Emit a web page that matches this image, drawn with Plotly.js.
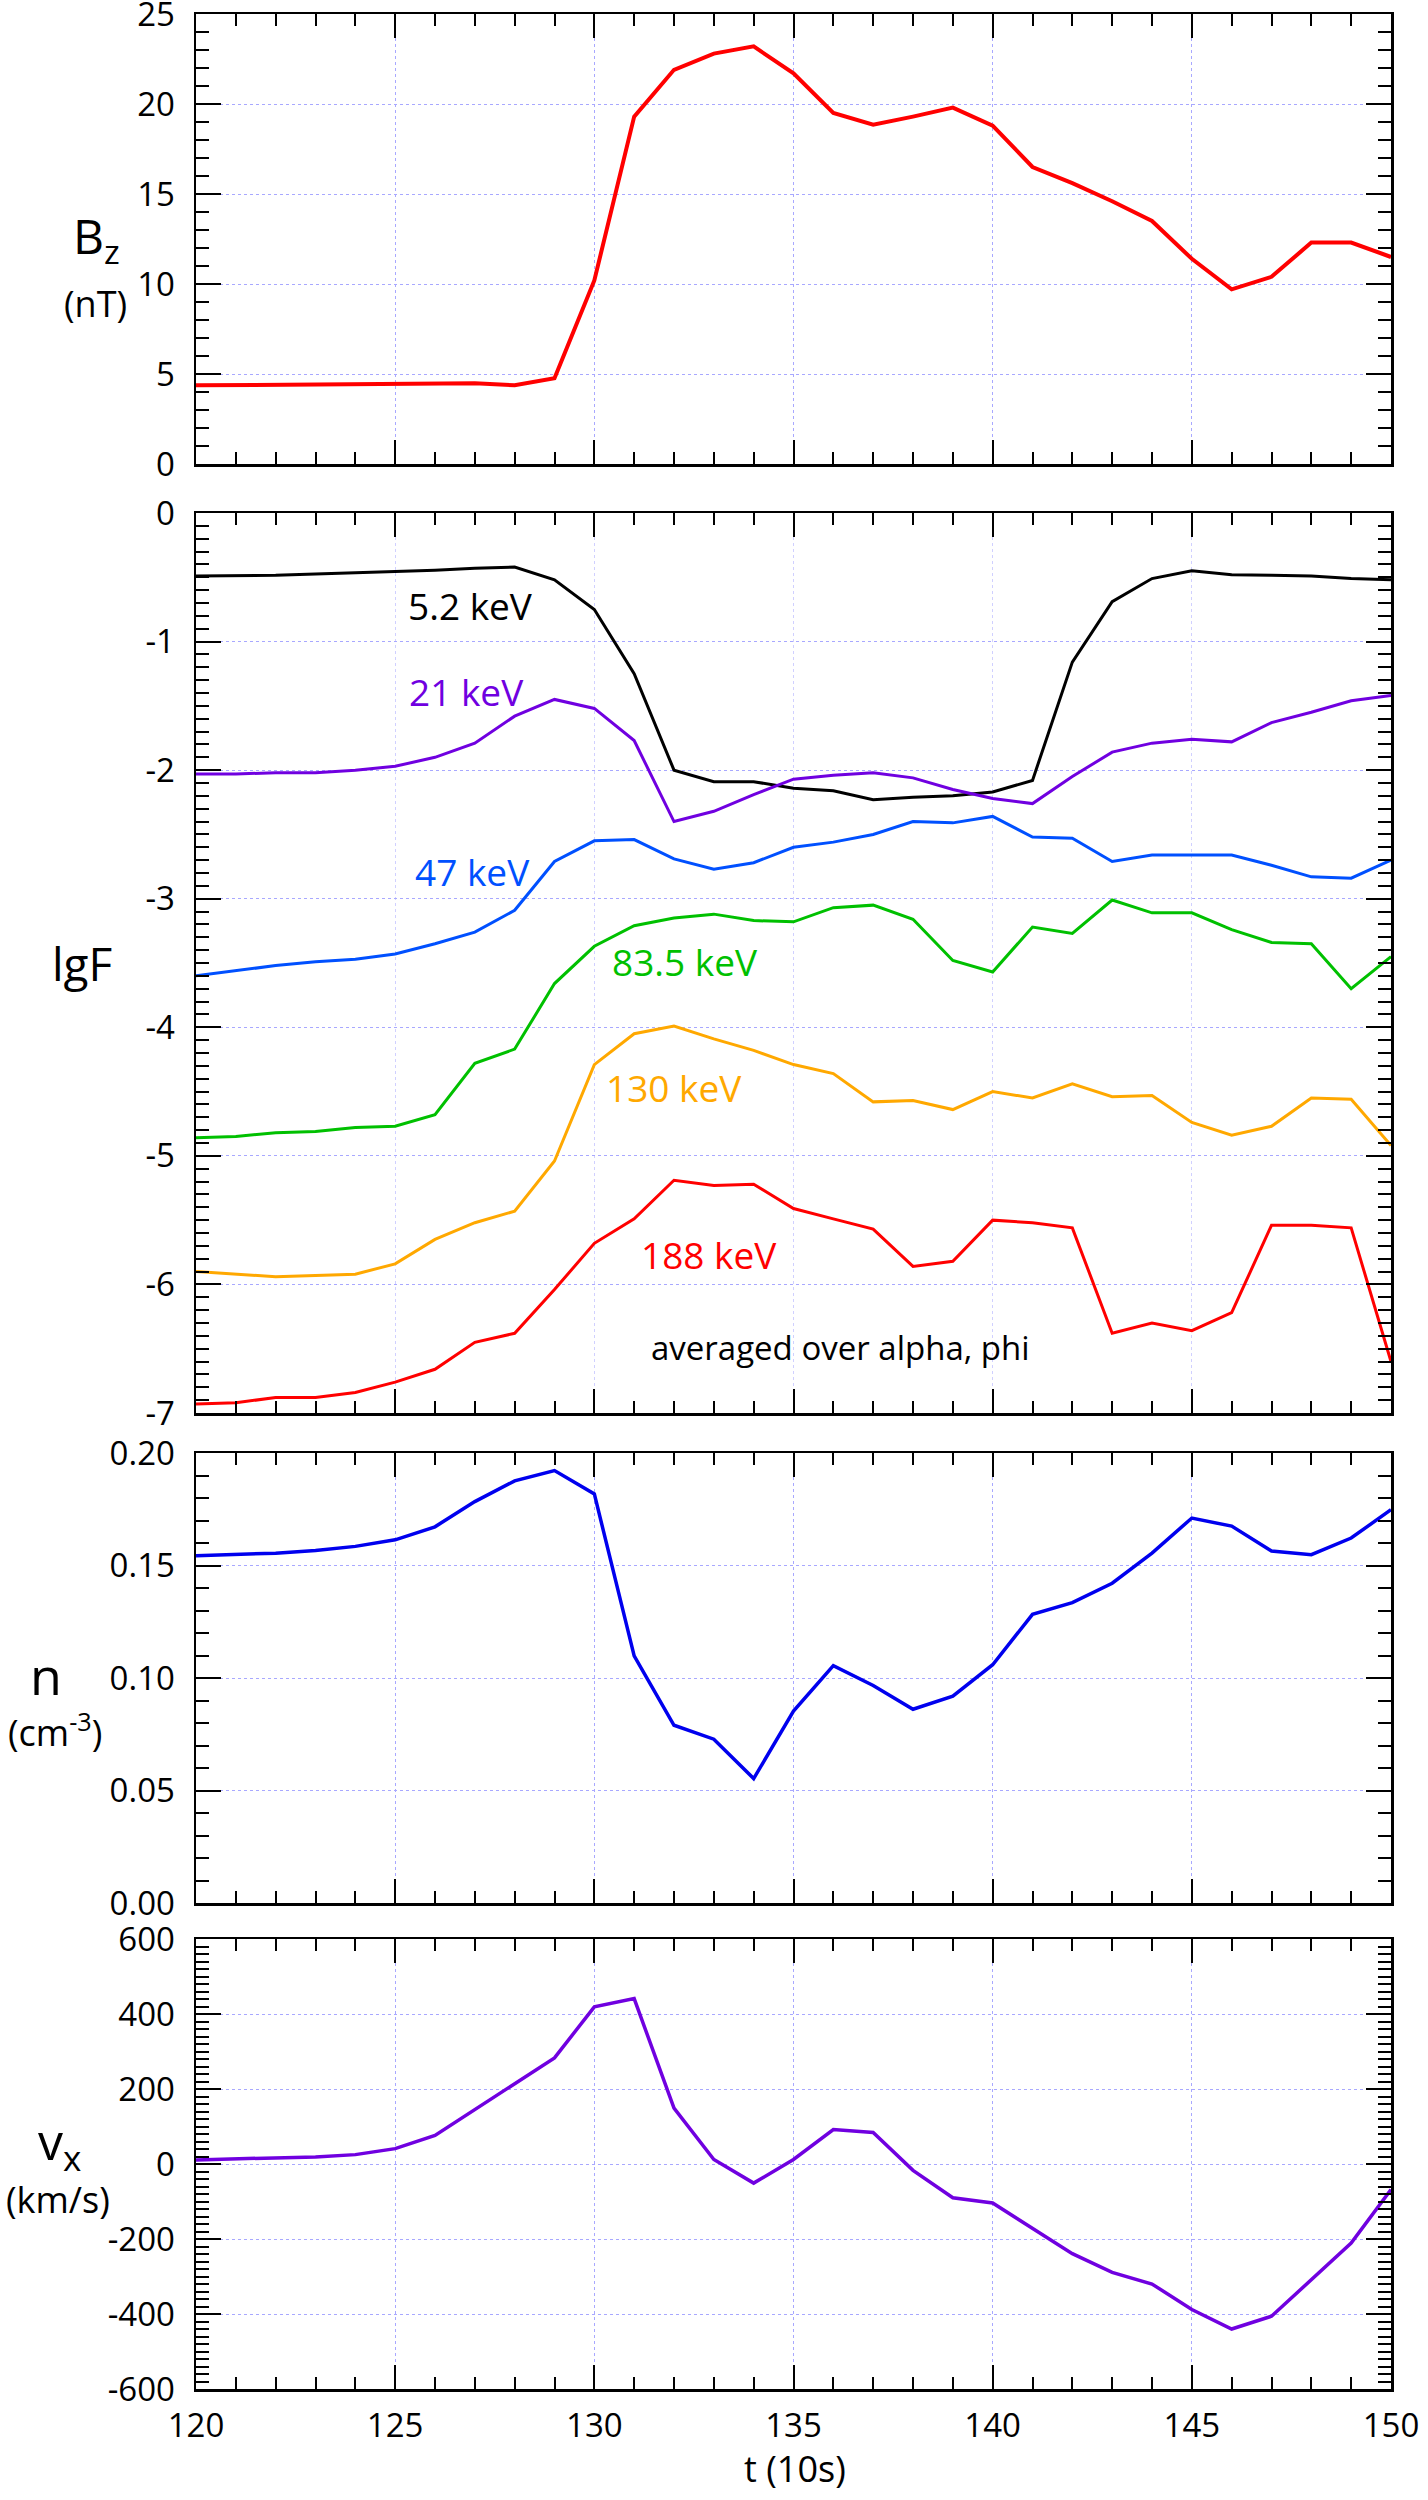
<!DOCTYPE html>
<html>
<head>
<meta charset="utf-8">
<script src="https://cdn.plot.ly/plotly-3.0.1.min.js"></script>
<style>
  html, body { margin: 0; padding: 0; background: #ffffff; }
  #plot { width: 1428px; height: 2500px; }
</style>
</head>
<body>
<div id="plot"></div>
<script>
// time, in units of 10 s
const t = [120, 121, 122, 123, 124, 125, 126, 127, 128, 129, 130,
           131, 132, 133, 134, 135, 136, 137, 138, 139, 140,
           141, 142, 143, 144, 145, 146, 147, 148, 149, 150];

// Bz (nT)
const bz = [4.37, 4.39, 4.41, 4.43, 4.45, 4.47, 4.48, 4.48, 4.37, 4.76, 10.2,
            19.3, 21.9, 22.8, 23.2, 21.7, 19.5, 18.85, 19.3, 19.8, 18.8,
            16.5, 15.6, 14.6, 13.5, 11.4, 9.7, 10.4, 12.3, 12.3, 11.5];

// lgF, averaged over alpha, phi
const lgF_5_2 = [-0.49, -0.49, -0.485, -0.475, -0.465, -0.456, -0.445, -0.43, -0.42, -0.52, -0.75,
                 -1.25, -2.0, -2.09, -2.09, -2.14, -2.16, -2.23, -2.21, -2.20, -2.17,
                 -2.08, -1.16, -0.69, -0.51, -0.45, -0.48, -0.485, -0.49, -0.51, -0.52];
const lgF_21 = [-2.03, -2.03, -2.02, -2.02, -2.0, -1.97, -1.90, -1.79, -1.58, -1.45, -1.52,
                -1.77, -2.40, -2.32, -2.19, -2.07, -2.04, -2.02, -2.06, -2.15, -2.22,
                -2.26, -2.05, -1.86, -1.79, -1.76, -1.78, -1.63, -1.55, -1.46, -1.42];
const lgF_47 = [-3.60, -3.56, -3.52, -3.49, -3.47, -3.43, -3.35, -3.26, -3.09, -2.71, -2.55,
                -2.54, -2.69, -2.77, -2.72, -2.60, -2.56, -2.50, -2.40, -2.41, -2.36,
                -2.52, -2.53, -2.71, -2.66, -2.66, -2.66, -2.74, -2.83, -2.84, -2.70];
const lgF_83_5 = [-4.86, -4.85, -4.82, -4.81, -4.78, -4.77, -4.68, -4.28, -4.17, -3.66, -3.37,
                  -3.21, -3.15, -3.12, -3.17, -3.18, -3.07, -3.05, -3.16, -3.48, -3.57,
                  -3.22, -3.27, -3.01, -3.11, -3.11, -3.24, -3.34, -3.35, -3.70, -3.45];
const lgF_130 = [-5.90, -5.92, -5.94, -5.93, -5.92, -5.84, -5.65, -5.52, -5.43, -5.04, -4.29,
                 -4.05, -3.99, -4.09, -4.18, -4.29, -4.36, -4.58, -4.57, -4.64, -4.50,
                 -4.55, -4.44, -4.54, -4.53, -4.74, -4.84, -4.77, -4.55, -4.56, -4.92];
const lgF_188 = [-6.93, -6.92, -6.88, -6.88, -6.84, -6.76, -6.66, -6.45, -6.38, -6.04, -5.68,
                 -5.49, -5.19, -5.23, -5.22, -5.41, -5.49, -5.57, -5.86, -5.82, -5.50,
                 -5.52, -5.56, -6.38, -6.30, -6.36, -6.22, -5.54, -5.54, -5.56, -6.60];

// density (cm^-3)
const dens = [0.1543, 0.1548, 0.1555, 0.1567, 0.1585, 0.1614, 0.1672, 0.1784, 0.1876, 0.1922, 0.1818,
              0.1098, 0.0790, 0.0728, 0.0553, 0.0853, 0.1055, 0.0967, 0.0861, 0.0919, 0.1059,
              0.1283, 0.1335, 0.1421, 0.1555, 0.1711, 0.1675, 0.1564, 0.1548, 0.1622, 0.1748];

// vx (km/s)
const vx = [11, 13, 15, 19, 25, 41, 76, 145, 214, 283, 419,
            441, 149, 12, -51, 12, 92, 84, -17, -90, -104,
            -171, -239, -289, -320, -388, -440, -406, -308, -211, -68];

// tick labels (plain hyphen minus, as in the figure)
const bzTicks = [0, 5, 10, 15, 20, 25];
const bzTickText = ["0", "5", "10", "15", "20", "25"];
const lgTicks = [0, -1, -2, -3, -4, -5, -6, -7];
const lgTickText = ["0", "-1", "-2", "-3", "-4", "-5", "-6", "-7"];
const nTicks = [0, 0.05, 0.1, 0.15, 0.2];
const nTickText = ["0.00", "0.05", "0.10", "0.15", "0.20"];
const vxTicks = [600, 400, 200, 0, -200, -400, -600];
const vxTickText = ["600", "400", "200", "0", "-200", "-400", "-600"];
const tTicks = [120, 125, 130, 135, 140, 145, 150];
const tTickText = ["120", "125", "130", "135", "140", "145", "150"];

const energyLabels = ["5.2 keV", "21 keV", "47 keV", "83.5 keV", "130 keV", "188 keV"];
const energySeries = [lgF_5_2, lgF_21, lgF_47, lgF_83_5, lgF_130, lgF_188];
const energyColors = ["#000000", "#7000e0", "#0050ff", "#00c000", "#ffa800", "#ff0000"];

const FONT = '"Open Sans", "Noto Sans", sans-serif';
const W = 1428, H = 2500;
const M = { l: 196, r: 37, t: 14, b: 111 };
const plotW = W - M.l - M.r;
const plotH = H - M.t - M.b;

// pixel position on the page -> paper coordinates
const px = (x) => (x - M.l) / plotW;
const py = (y) => (H - M.b - y) / plotH;

function xAxis(anchor, showLabels) {
  return {
    range: [120, 150],
    tickmode: "array",
    tickvals: tTicks,
    ticktext: tTickText,
    showline: true,
    linecolor: "#000000",
    linewidth: 2.5,
    mirror: "allticks",
    ticks: "inside",
    ticklen: 24,
    tickwidth: 2,
    tickcolor: "#000000",
    minor: { tickmode: "linear", tick0: 120, dtick: 1, ticks: "inside", ticklen: 12,
             tickwidth: 2, tickcolor: "#000000", showgrid: false },
    showgrid: true,
    gridcolor: "#a8a8ff",
    griddash: "dot",
    gridwidth: 1,
    zeroline: false,
    showticklabels: showLabels,
    ticklabeloverflow: "allow",
    ticklabelstandoff: 6,
    tickfont: { family: FONT, size: 33, color: "#000000" },
    anchor: anchor,
  };
}

function yAxis(range, vals, text, minor, domain) {
  return {
    range: range,
    tickmode: "array",
    tickvals: vals,
    ticktext: text,
    domain: domain,
    showline: true,
    linecolor: "#000000",
    linewidth: 2.5,
    mirror: "allticks",
    ticks: "inside",
    ticklen: 25,
    tickwidth: 2,
    tickcolor: "#000000",
    minor: { tickmode: "linear", tick0: range[0], dtick: minor, ticks: "inside", ticklen: 13,
             tickwidth: 2, tickcolor: "#000000", showgrid: false },
    showgrid: true,
    gridcolor: "#a8a8ff",
    griddash: "dot",
    gridwidth: 1,
    zeroline: false,
    ticklabeloverflow: "allow",
    ticklabelstandoff: 12,
    tickfont: { family: FONT, size: 33, color: "#000000" },
  };
}

const traces = [
  { x: t, y: bz, xaxis: "x", yaxis: "y", type: "scatter", mode: "lines",
    line: { color: "#ff0000", width: 4 } },
];
energySeries.forEach((s, i) => {
  traces.push({ x: t, y: s, xaxis: "x2", yaxis: "y2", type: "scatter", mode: "lines",
    line: { color: energyColors[i], width: 3 } });
});
traces.push({ x: t, y: dens, xaxis: "x3", yaxis: "y3", type: "scatter", mode: "lines",
  line: { color: "#0000ee", width: 3.5 } });
traces.push({ x: t, y: vx, xaxis: "x4", yaxis: "y4", type: "scatter", mode: "lines",
  line: { color: "#7000e0", width: 3.5 } });

// label spots for the energy curves, in data coordinates of panel 2
const labelT = [126.9, 126.8, 126.93, 132.28, 132.0, 132.88];
const labelV = [-0.72, -1.39, -2.79, -3.49, -4.47, -5.77];

const annotations = energyLabels.map((txt, i) => ({
  text: txt, x: labelT[i], y: labelV[i], xref: "x2", yref: "y2",
  showarrow: false, xanchor: "center", yanchor: "middle",
  font: { family: FONT, size: 37, color: energyColors[i] },
}));

annotations.push({
  text: "averaged over alpha, phi", x: 136.17, y: -6.49, xref: "x2", yref: "y2",
  showarrow: false, xanchor: "center", yanchor: "middle",
  font: { family: FONT, size: 33, color: "#000000" },
});

function sideLabel(text, x, y, size) {
  return { text: text, x: px(x), y: py(y), xref: "paper", yref: "paper",
    showarrow: false, xanchor: "center", yanchor: "middle",
    font: { family: FONT, size: size, color: "#000000" } };
}

annotations.push(sideLabel("B<sub>z</sub>", 96, 238, 48));
annotations.push(sideLabel("(nT)", 95, 304, 36));
annotations.push(sideLabel("lgF", 82, 963, 46));
annotations.push(sideLabel("n", 46, 1674, 52));
annotations.push(sideLabel("(cm<sup>-3</sup>)", 55, 1730, 36));
annotations.push(sideLabel("v<sub>x</sub>", 59, 2144, 50));
annotations.push(sideLabel("(km/s)", 58, 2199, 36));
annotations.push(sideLabel("t (10s)", 795, 2468, 36));

const layout = {
  width: W,
  height: H,
  margin: M,
  paper_bgcolor: "#ffffff",
  plot_bgcolor: "#ffffff",
  showlegend: false,
  font: { family: FONT, color: "#000000" },
  xaxis: xAxis("y", false),
  xaxis2: Object.assign(xAxis("y2", false), { gridcolor: "#d0d0ff" }),
  xaxis3: xAxis("y3", false),
  xaxis4: xAxis("y4", true),
  yaxis: yAxis([0, 25], bzTicks, bzTickText, 1, [py(464), py(14)]),
  yaxis2: yAxis([-7, 0], lgTicks, lgTickText, 0.1, [py(1413), py(513)]),
  yaxis3: yAxis([0, 0.2], nTicks, nTickText, 0.01, [py(1903), py(1453)]),
  yaxis4: yAxis([-600, 600], vxTicks, vxTickText, 20, [py(2389), py(1939)]),
  annotations: annotations,
};

Plotly.newPlot("plot", traces, layout, { staticPlot: true, displayModeBar: false });
</script>
</body>
</html>
